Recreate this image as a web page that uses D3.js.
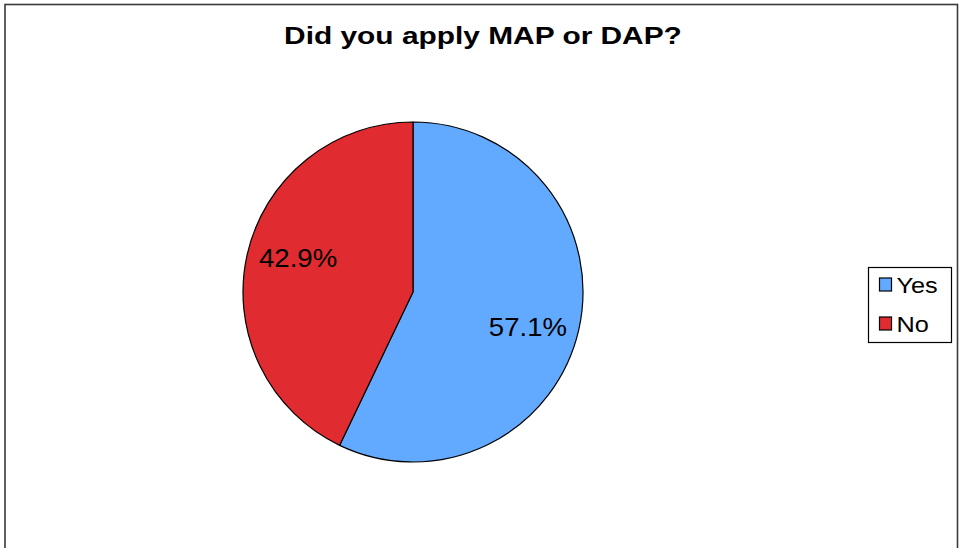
<!DOCTYPE html>
<html>
<head>
<meta charset="utf-8">
<script src="https://cdn.jsdelivr.net/npm/d3@7"></script>
<style>
  html, body { margin: 0; padding: 0; background: #ffffff; }
  svg { display: block; }
  text { font-family: "Liberation Sans", Arial, sans-serif; }
</style>
</head>
<body>
<svg id="chart" width="961" height="548"></svg>
<script>
const title = "Did you apply MAP or DAP?";
const categories = ["Yes", "No"];
const values = [57.1, 42.9];
const labels = ["57.1%", "42.9%"];
const colors = ["#62AAFF", "#E02B30"];

const W = 961, H = 548;
const svg = d3.select("#chart");

// horizontally widen text glyphs (reference text is wider than Arial)
function widen(sel, k, anchorX) {
  sel.attr("transform", `translate(${anchorX},0) scale(${k},1) translate(${-anchorX},0)`);
}

// chart frame
svg.append("rect").attr("x", 0).attr("y", 0).attr("width", W).attr("height", H).attr("fill", "#ffffff");
svg.append("rect")
  .attr("x", 5).attr("y", 4.5).attr("width", 952.5).attr("height", H + 10)
  .attr("fill", "#ffffff").attr("stroke", "#3a3a3a").attr("stroke-width", 1.6);

// title
const t = svg.append("text")
  .attr("x", 483).attr("y", 44.5)
  .attr("text-anchor", "middle")
  .attr("font-size", 24.5).attr("font-weight", "bold").attr("fill", "#000")
  .text(title);
widen(t, 1.22, 483);

// pie
const cx = 413, cy = 292, R = 170;
const pie = d3.pie().sort(null).value(d => d)(values);
const arc = d3.arc().innerRadius(0).outerRadius(R);
const g = svg.append("g").attr("transform", `translate(${cx},${cy})`);
g.selectAll("path.slice").data(pie).join("path")
  .attr("class", "slice")
  .attr("d", arc)
  .attr("fill", (d, i) => colors[i])
  .attr("stroke", "#000").attr("stroke-width", 1.2).attr("stroke-linejoin", "round");

// labels
const labelTurn = 4 * Math.PI / 180;
const labelR = 120;
g.selectAll("g.lbl").data(pie).join("g")
  .attr("class", "lbl")
  .attr("transform", d => {
    const a = (d.startAngle + d.endAngle) / 2 + labelTurn;
    return `translate(${Math.sin(a) * labelR},${-Math.cos(a) * labelR})`;
  })
  .append("text")
  .attr("dy", "0.36em")
  .attr("text-anchor", "middle")
  .attr("font-size", 26).attr("fill", "#000")
  .attr("transform", "scale(1.06,1)")
  .text((d, i) => labels[i]);

// legend
const lg = svg.append("g").attr("transform", "translate(868.5,267.5)");
lg.append("rect").attr("width", 83).attr("height", 75)
  .attr("fill", "#fff").attr("stroke", "#000").attr("stroke-width", 1.2);
const ly = d3.scalePoint().domain(categories).range([17.5, 56.5]);
const items = lg.selectAll("g.item").data(categories).join("g")
  .attr("class", "item")
  .attr("transform", d => `translate(0,${ly(d)})`);
items.append("rect")
  .attr("x", 11).attr("y", -7).attr("width", 12).attr("height", 13)
  .attr("fill", (d, i) => colors[i]).attr("stroke", "#000").attr("stroke-width", 1.2);
const lt = items.append("text")
  .attr("x", 28).attr("y", 8)
  .attr("font-size", 22).attr("fill", "#000")
  .text(d => d);
lt.each(function () { widen(d3.select(this), 1.15, 28); });
</script>
</body>
</html>
